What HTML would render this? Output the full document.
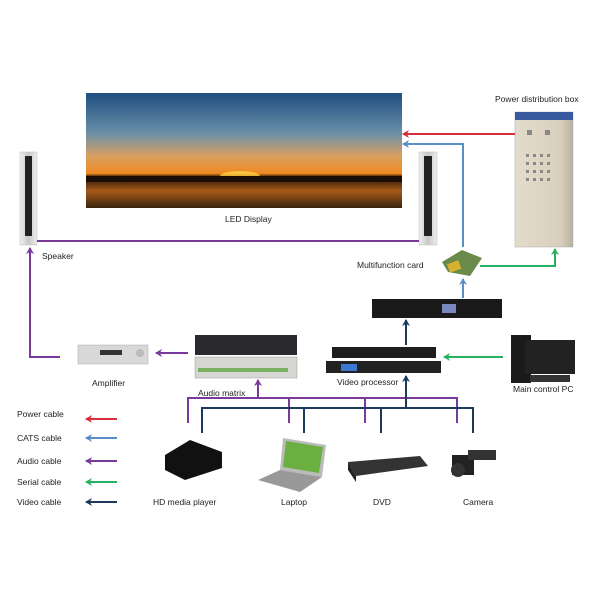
<!DOCTYPE html>
<html><head><style>
html,body{margin:0;padding:0;background:#fff;}
svg text{font-family:"Liberation Sans",sans-serif;font-size:8.5px;fill:#222;}
</style></head><body>
<svg width="600" height="600" viewBox="0 0 600 600" xmlns="http://www.w3.org/2000/svg">
<defs>
<linearGradient id="sky" x1="0" y1="0" x2="0" y2="1">
<stop offset="0" stop-color="#1f4f80"/><stop offset="0.35" stop-color="#6a8fa8"/>
<stop offset="0.55" stop-color="#d9a060"/><stop offset="0.7" stop-color="#f08a20"/>
<stop offset="0.73" stop-color="#201008"/><stop offset="0.85" stop-color="#a85a18"/><stop offset="1" stop-color="#3a2410"/>
</linearGradient>
<linearGradient id="box" x1="0" y1="0" x2="1" y2="0"><stop offset="0" stop-color="#e4dccb"/><stop offset="0.8" stop-color="#d8cfbb"/><stop offset="1" stop-color="#b8b0a0"/></linearGradient>
<linearGradient id="spk" x1="0" y1="0" x2="1" y2="0"><stop offset="0" stop-color="#f0f0f0"/><stop offset="0.5" stop-color="#c8c8c8"/><stop offset="1" stop-color="#eee"/></linearGradient>
<marker id="ar" markerWidth="8" markerHeight="8" refX="6" refY="4" orient="auto" markerUnits="userSpaceOnUse"><path d="M0,0 L7,4 L0,8 L2,4Z" fill="context-stroke"/></marker>
</defs>

<!-- LED display -->
<rect x="86" y="93" width="316" height="115" fill="url(#sky)"/>
<ellipse cx="240" cy="176" rx="20" ry="5" fill="#ffd040" opacity="0.8"/>
<rect x="86" y="176" width="316" height="6" fill="#1a0e06"/>
<text x="225" y="222">LED Display</text>

<!-- speakers -->
<rect x="20" y="152" width="17" height="93" fill="url(#spk)" stroke="#bbb" stroke-width="0.5"/>
<rect x="25" y="156" width="7" height="80" fill="#222"/>
<rect x="419" y="152" width="18" height="93" fill="url(#spk)" stroke="#bbb" stroke-width="0.5"/>
<rect x="424" y="156" width="8" height="80" fill="#222"/>
<text x="42" y="259">Speaker</text>

<!-- power box -->
<rect x="515" y="112" width="58" height="135" fill="url(#box)" stroke="#aaa" stroke-width="0.5"/>
<rect x="515" y="112" width="58" height="8" fill="#3a5aa0"/>
<g fill="#888"><rect x="527" y="130" width="5" height="5"/><rect x="545" y="130" width="5" height="5"/>
<rect x="526" y="154" width="3" height="3"/><rect x="533" y="154" width="3" height="3"/><rect x="540" y="154" width="3" height="3"/><rect x="547" y="154" width="3" height="3"/>
<rect x="526" y="162" width="3" height="3"/><rect x="533" y="162" width="3" height="3"/><rect x="540" y="162" width="3" height="3"/><rect x="547" y="162" width="3" height="3"/>
<rect x="526" y="170" width="3" height="3"/><rect x="533" y="170" width="3" height="3"/><rect x="540" y="170" width="3" height="3"/><rect x="547" y="170" width="3" height="3"/>
<rect x="526" y="178" width="3" height="3"/><rect x="533" y="178" width="3" height="3"/><rect x="540" y="178" width="3" height="3"/><rect x="547" y="178" width="3" height="3"/></g>
<text x="495" y="102">Power distribution box</text>

<!-- multifunction card -->
<polygon points="442,262 462,250 482,258 470,276 448,272" fill="#6a8a4a"/>
<rect x="448" y="262" width="12" height="9" fill="#d8b030" transform="rotate(-20 454 266)"/>
<text x="357" y="268">Multifunction card</text>

<!-- sending box -->
<rect x="372" y="299" width="130" height="19" fill="#1a1a1a"/>
<rect x="442" y="304" width="14" height="9" fill="#7a88c0"/>

<!-- video processor -->
<rect x="332" y="347" width="104" height="11" fill="#1e1e1e"/>
<rect x="326" y="361" width="115" height="12" fill="#222"/>
<rect x="341" y="364" width="16" height="7" fill="#3a7ad0"/>
<text x="337" y="385">Video processor</text>

<!-- audio matrix -->
<rect x="195" y="335" width="102" height="20" fill="#2a2a2e"/>
<rect x="195" y="357" width="102" height="21" fill="#d6d6d2" stroke="#999" stroke-width="0.5"/>
<rect x="198" y="368" width="90" height="4" fill="#7ab060"/>
<text x="198" y="396">Audio  matrix</text>

<!-- amplifier -->
<rect x="78" y="345" width="70" height="19" fill="#d8d8d8" stroke="#aaa" stroke-width="0.5"/>
<rect x="100" y="350" width="22" height="5" fill="#333"/>
<circle cx="140" cy="353" r="4" fill="#bbb"/>
<text x="92" y="386">Amplifier</text>

<!-- PC -->
<rect x="511" y="335" width="20" height="48" fill="#1a1a1a"/>
<rect x="525" y="340" width="50" height="34" fill="#222"/>
<rect x="530" y="375" width="40" height="7" fill="#333"/>
<text x="513" y="392">Main control PC</text>

<!-- bottom devices -->
<path d="M165,455 L190,440 L222,452 L222,468 L185,480 L165,470Z" fill="#111"/>
<text x="153" y="505">HD media player</text>
<polygon points="283,438 326,445 322,477 280,470" fill="#bbb"/>
<polygon points="286,441 323,447 319,473 283,467" fill="#6ab040"/>
<polygon points="258,480 280,470 322,477 300,492" fill="#999"/>
<text x="281" y="505">Laptop</text>
<polygon points="348,462 420,456 428,466 356,476" fill="#333"/>
<polygon points="348,462 356,476 356,482 348,470" fill="#222"/>
<text x="373" y="505">DVD</text>
<rect x="452" y="455" width="22" height="20" fill="#222"/>
<circle cx="458" cy="470" r="7" fill="#333"/>
<rect x="468" y="450" width="28" height="10" fill="#333"/>
<text x="463" y="505">Camera</text>

<!-- connectors -->
<g fill="none" stroke-width="2">
<line x1="515" y1="134" x2="403" y2="134" stroke="#d8303a" marker-end="url(#ar)"/>
<polyline points="463,247 463,144 403,144" stroke="#5a8ec8" marker-end="url(#ar)"/>
<polyline points="463,298 463,279" stroke="#5a8ec8" marker-end="url(#ar)"/>
<line x1="37" y1="241" x2="419" y2="241" stroke="#7a3a9a"/>
<polyline points="60,357 30,357 30,248" stroke="#7a3a9a" marker-end="url(#ar)"/>
<line x1="188" y1="353" x2="156" y2="353" stroke="#7a3a9a" marker-end="url(#ar)"/>
<polyline points="480,266 555,266 555,249" stroke="#28b060" marker-end="url(#ar)"/>
<line x1="503" y1="357" x2="444" y2="357" stroke="#28b060" marker-end="url(#ar)"/>
<line x1="406" y1="345" x2="406" y2="320" stroke="#1e3a5a" marker-end="url(#ar)"/>
<polyline points="188,423 188,398 457,398 457,423" stroke="#7a3a9a"/>
<line x1="289" y1="398" x2="289" y2="423" stroke="#7a3a9a"/>
<line x1="365" y1="398" x2="365" y2="423" stroke="#7a3a9a"/>
<line x1="258" y1="398" x2="258" y2="380" stroke="#7a3a9a" marker-end="url(#ar)"/>
<polyline points="202,433 202,408 473,408 473,433" stroke="#1e3a5a"/>
<line x1="304" y1="408" x2="304" y2="433" stroke="#1e3a5a"/>
<line x1="381" y1="408" x2="381" y2="433" stroke="#1e3a5a"/>
<line x1="406" y1="408" x2="406" y2="376" stroke="#1e3a5a" marker-end="url(#ar)"/>
<!-- legend -->
<line x1="117" y1="419" x2="86" y2="419" stroke="#d8303a" marker-end="url(#ar)"/>
<line x1="117" y1="438" x2="86" y2="438" stroke="#5a8ec8" marker-end="url(#ar)"/>
<line x1="117" y1="461" x2="86" y2="461" stroke="#7a3a9a" marker-end="url(#ar)"/>
<line x1="117" y1="482" x2="86" y2="482" stroke="#28b060" marker-end="url(#ar)"/>
<line x1="117" y1="502" x2="86" y2="502" stroke="#1e3a5a" marker-end="url(#ar)"/>
</g>
<text x="17" y="417">Power cable</text>
<text x="17" y="441">CATS cable</text>
<text x="17" y="464">Audio cable</text>
<text x="17" y="485">Serial cable</text>
<text x="17" y="505">Video cable</text>
</svg>
</body></html>
